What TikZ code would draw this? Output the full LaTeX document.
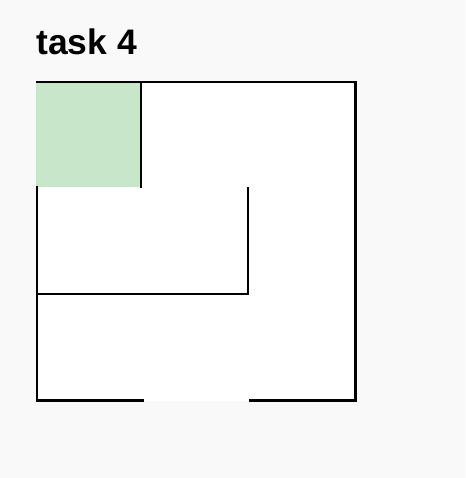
\documentclass[tikz,border=0pt]{standalone}
\usepackage{fontspec}
\setmainfont{Liberation Sans}
\usepackage{xcolor}
\definecolor{pagebg}{HTML}{F9F9F9}
\definecolor{startcell}{HTML}{C8E6C9}
\tikzset{
    wall/.style={line width=1.6pt, line cap=rect, black},
    title/.style={anchor=base west, inner sep=0pt, font=\bfseries\fontsize{26.6}{30}\selectfont}
}

\begin{document}
\begin{tikzpicture}[x=0.75pt, y=-0.75pt]
\fill[pagebg] (0,0) rectangle (465,478);
\useasboundingbox (0,0) rectangle (465,478);
\node[title] (heading) at (36,55) {task 4};
\fill[white] (37,82) rectangle (356,401);
\fill[startcell] (36,82) rectangle (140,187);
\draw[wall] (37,82) -- (355.5,82) -- (355.5,400.5) -- (250,400.5)
            (143,400.5) -- (37,400.5) -- (37,187.5);
\draw[wall] (141,82) -- (141,187);
\draw[wall] (248,188) -- (248,294) -- (37,294);
\end{tikzpicture}
\end{document}
